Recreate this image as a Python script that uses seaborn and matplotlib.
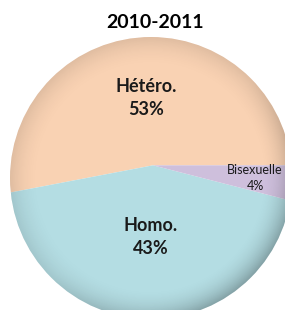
import numpy as np
import seaborn as sns
import matplotlib.pyplot as plt

# données
categories = ['Hétéro.', 'Homo.', 'Bisexuelle']
valeurs = [53, 43, 4]
couleurs = ['#F9D2B3', '#B4DDE3', '#CEBFDC']

sns.set_theme(style='white')
plt.rcParams['font.family'] = ['Lato', 'DejaVu Sans']

fig = plt.figure(figsize=(2.85, 3.1), dpi=100)
# le camembert est grand et rogné à droite et en bas (rayon ~141 px)
r_px = 141
ax = fig.add_axes([(151 - r_px) / 285, (310 - 178 - r_px) / 310,
                   2 * r_px / 285, 2 * r_px / 310])

# effet 3D : le sommet des parts est un peu au-dessus du centre du disque
sommet = (0.014, 0.09)
wedges, _ = ax.pie(valeurs, colors=couleurs, startangle=0, counterclock=True,
                   center=sommet, radius=1.3, wedgeprops=dict(edgecolor='none'))
ax.set_xlim(-1, 1)
ax.set_ylim(-1, 1)
ax.axis('off')

disque = plt.Circle((0, 0), 1.0, facecolor='none', edgecolor='none')
ax.add_patch(disque)
for w in wedges:
    w.set_clip_on(True)
    w.set_clip_path(disque)

# ombrage radial vers le bord
n = 300
xx, yy = np.meshgrid(np.linspace(-1, 1, n), np.linspace(-1, 1, n))
rr = np.sqrt(xx ** 2 + yy ** 2)
alpha = np.clip((rr - 0.78) / 0.22, 0, 1) ** 2 * (0.10 + 0.12 * np.clip(xx - yy, 0, 1.4))
ombre = np.zeros((n, n, 4))
ombre[..., 3] = alpha
img = ax.imshow(ombre, extent=(-1, 1, -1, 1), origin='lower', zorder=3)
img.set_clip_path(disque)
ax.set_aspect('auto')
ax.set_xlim(-1, 1)
ax.set_ylim(-1, 1)

distances = [0.48, 0.51, 0.73]
tailles = [13, 13, 9]
graisses = ['bold', 'bold', 'normal']
interlignes = [1.45, 1.45, 1.35]
for w, cat, v, d, t, g, il in zip(wedges, categories, valeurs, distances, tailles, graisses, interlignes):
    ang = np.deg2rad((w.theta1 + w.theta2) / 2)
    x, y = sommet[0] + d * np.cos(ang), sommet[1] + d * np.sin(ang)
    ax.text(x, y, f'{cat}\n{v}%', ha='center', va='center', fontsize=t,
            fontweight=g, color='#1a1a1a', linespacing=il, zorder=5)

fig.text(0.545, 0.929, '2010-2011', ha='center', va='center', fontsize=14,
         fontweight='bold', color='black')

fig.savefig('out.png', dpi=100)
